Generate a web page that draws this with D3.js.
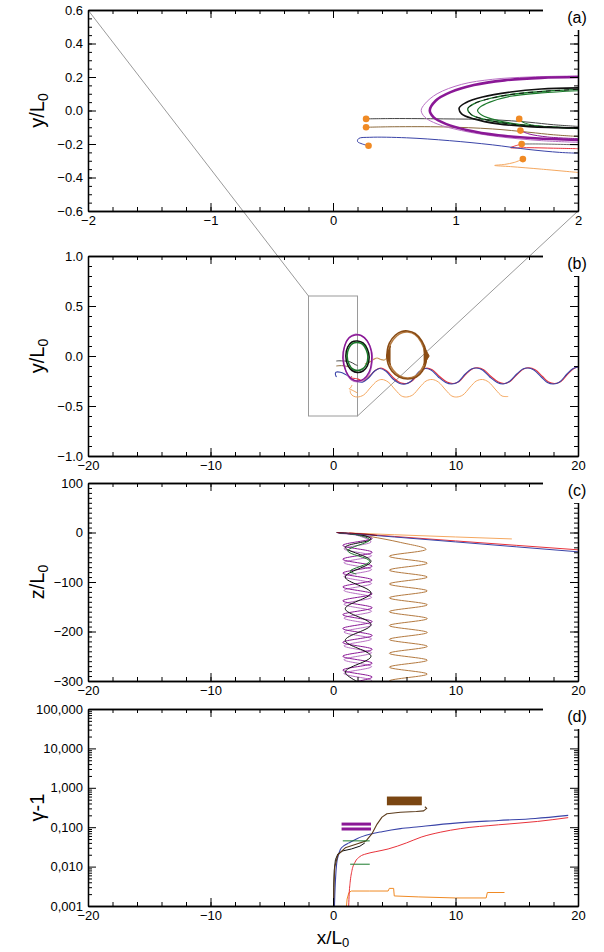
<!DOCTYPE html>
<html><head><meta charset="utf-8">
<script src="https://cdn.jsdelivr.net/npm/d3@7"></script>
<style>
body{margin:0;background:#fff}
svg{display:block}
text{font-family:"Liberation Sans",Arial,Helvetica,sans-serif}
</style>
</head><body>
<svg id="chart" width="604" height="952"></svg>
<script>
// ---------------- DATA ----------------
const panelLabels = ["(a)", "(b)", "(c)", "(d)"];
const yTitles = ["y/L", "y/L", "z/L", "\u03B3-1"];

const aXTicks = [-2, -1, 0, 1, 2];
const aXTickLabels = ["\u22122", "\u22121", "0", "1", "2"];
const aYTicks = [-0.6, -0.4, -0.2, 0.0, 0.2, 0.4, 0.6];
const aYTickLabels = ["\u22120.6", "\u22120.4", "\u22120.2", "0.0", "0.2", "0.4", "0.6"];
const bigXTicks = [-20, -10, 0, 10, 20];
const bigXTickLabels = ["\u221220", "\u221210", "0", "10", "20"];
const bYTicks = [-1, -0.5, 0, 0.5, 1];
const bYTickLabels = ["\u22121.0", "\u22120.5", "0.0", "0.5", "1.0"];
const cYTicks = [-300, -200, -100, 0, 100];
const cYTickLabels = ["\u2212300", "\u2212200", "\u2212100", "0", "100"];
const dYTicks = [0.001, 0.01, 0.1, 1, 10, 100];
const dYTickLabels = ["0,001", "0,010", "0,100", "1,000", "10,000", "100,000"];

// zoom box of panel (a) drawn in panel (b)
const zoomBoxX = [-2, 2];
const zoomBoxY = [-0.6, 0.6];

// panel (a): starting points
const startDotsX = [0.27, 0.27, 0.29, 1.52, 1.53, 1.54, 1.55];
const startDotsY = [-0.05, -0.10, -0.21, -0.05, -0.12, -0.20, -0.29];

// panel (a) trajectories [x, y]
const aPurpleThick = [[2.0,0.200],[1.7,0.195],[1.4,0.18],[1.15,0.152],[0.96,0.11],[0.84,0.06],[0.79,0.0],[0.82,-0.04],[0.92,-0.08],[1.1,-0.118],[1.35,-0.148],[1.65,-0.166],[2.0,-0.176]];
const aPurpleThin = [[2.0,0.206],[1.6,0.2],[1.3,0.186],[1.05,0.156],[0.85,0.1],[0.75,0.04],[0.72,0.0],[0.75,-0.04],[0.85,-0.08],[1.05,-0.12],[1.35,-0.156],[1.7,-0.18],[2.0,-0.19]];
const aBlackLoop = [[2.0,0.135],[1.7,0.128],[1.45,0.11],[1.22,0.08],[1.08,0.045],[1.03,0.015],[1.05,-0.02],[1.15,-0.05],[1.35,-0.08],[1.6,-0.096],[2.0,-0.104]];
const aGreenLoop = [[2.0,0.126],[1.75,0.116],[1.5,0.1],[1.3,0.075],[1.15,0.04],[1.1,0.01],[1.13,-0.025],[1.25,-0.055],[1.45,-0.08],[1.7,-0.095],[2.0,-0.106]];
const aGreenLoop2 = [[2.0,0.118],[1.7,0.105],[1.45,0.085],[1.28,0.05],[1.2,0.02],[1.18,0.0],[1.22,-0.03],[1.35,-0.06],[1.55,-0.085],[1.8,-0.1],[2.0,-0.108]];
const aBlackStart = [[0.27,-0.05],[0.5,-0.048],[0.9,-0.05],[1.3,-0.055],[1.6,-0.07],[1.8,-0.085],[2.0,-0.095]];
const aBrownStart = [[0.27,-0.10],[0.5,-0.097],[0.9,-0.098],[1.3,-0.11],[1.6,-0.13],[1.8,-0.145],[2.0,-0.155]];
const aBlue = [[0.29,-0.21],[0.24,-0.2],[0.2,-0.185],[0.21,-0.167],[0.3,-0.16],[0.6,-0.163],[0.95,-0.18],[1.3,-0.205],[1.6,-0.233],[1.85,-0.25],[2.0,-0.255]];
const aRed = [[1.54,-0.20],[1.48,-0.213],[1.45,-0.222],[1.6,-0.222],[1.8,-0.225],[2.0,-0.228]];
const aOrange = [[1.55,-0.29],[1.48,-0.31],[1.4,-0.322],[1.32,-0.328],[1.45,-0.335],[1.7,-0.35],[2.0,-0.37]];
const aGreenStart = [[1.52,-0.05],[1.55,-0.07],[1.65,-0.09],[1.8,-0.1],[2.0,-0.106]];
const aPurpleStart = [[1.53,-0.12],[1.6,-0.14],[1.75,-0.158],[2.0,-0.168]];
const aGrayLow = [[1.55,-0.2],[1.7,-0.2],[2.0,-0.205]];

// panel (b) trajectories [x, y]
const bPurpleOrbit1 = [[0.8,-0.02],[0.95,0.1],[1.3,0.18],[1.8,0.21],[2.3,0.205],[2.8,0.15],[3.12,0.05],[3.15,-0.06],[2.95,-0.16],[2.5,-0.23],[2.0,-0.25],[1.5,-0.23],[1.05,-0.15]];
const bPurpleOrbit2 = [[0.86,0.0],[1.0,0.12],[1.35,0.19],[1.85,0.22],[2.35,0.2],[2.85,0.14],[3.2,0.03],[3.18,-0.08],[2.95,-0.18],[2.5,-0.24],[2.0,-0.26],[1.5,-0.24],[1.08,-0.16]];
const bBlackOrbit = [[1.05,0.0],[1.2,0.09],[1.55,0.14],[2.0,0.15],[2.45,0.13],[2.8,0.07],[2.95,-0.01],[2.8,-0.1],[2.45,-0.15],[2.0,-0.165],[1.55,-0.145],[1.2,-0.09]];
const bGreenOrbit = [[1.15,0.0],[1.3,0.08],[1.6,0.125],[2.0,0.135],[2.4,0.12],[2.72,0.06],[2.85,-0.01],[2.72,-0.085],[2.4,-0.13],[2.0,-0.145],[1.6,-0.13],[1.3,-0.08]];
const bBrownOrbit1 = [[4.4,0.0],[4.6,0.13],[5.1,0.21],[5.6,0.245],[6.1,0.25],[6.7,0.225],[7.25,0.15],[7.6,0.04],[7.6,-0.06],[7.3,-0.15],[6.8,-0.21],[6.1,-0.23],[5.4,-0.21],[4.8,-0.15],[4.5,-0.08]];
const bBrownOrbit2 = [[4.5,0.0],[4.7,0.12],[5.2,0.2],[5.7,0.235],[6.1,0.24],[6.7,0.215],[7.2,0.14],[7.5,0.03],[7.5,-0.06],[7.2,-0.14],[6.75,-0.2],[6.1,-0.22],[5.45,-0.2],[4.9,-0.14],[4.6,-0.07]];
const bBrownEarL = [[4.7,0.1],[4.35,0.0],[4.7,-0.09]];
const bBrownEarR = [[7.4,0.1],[7.85,0.0],[7.4,-0.09]];
const bTan = [[2.6,-0.08],[3.0,-0.06],[3.3,-0.035],[3.6,-0.02],[3.9,-0.035],[4.2,-0.04],[4.45,-0.01]];
const bBlue = [[2.0,-0.255],[2.4,-0.262],[2.9,-0.22],[3.4,-0.15],[3.8,-0.125],[4.3,-0.15],[4.9,-0.23],[5.4,-0.272],[5.9,-0.28],[6.4,-0.25],[7.0,-0.16],[7.5,-0.125],[8.0,-0.14],[8.6,-0.21],[9.2,-0.265],[9.7,-0.28],[10.2,-0.26],[10.8,-0.18],[11.3,-0.13],[11.7,-0.12],[12.2,-0.14],[12.8,-0.21],[13.4,-0.265],[13.9,-0.28],[14.4,-0.255],[15.0,-0.18],[15.5,-0.13],[15.9,-0.12],[16.4,-0.14],[17.0,-0.21],[17.5,-0.265],[18.0,-0.28],[18.5,-0.26],[19.1,-0.18],[19.6,-0.125],[20.0,-0.11]];
const bRed = [[2.0,-0.228],[2.5,-0.25],[3.0,-0.2],[3.5,-0.14],[3.9,-0.12],[4.4,-0.15],[5.0,-0.225],[5.5,-0.268],[6.0,-0.275],[6.5,-0.245],[7.1,-0.16],[7.6,-0.122],[8.1,-0.138],[8.7,-0.205],[9.3,-0.26],[9.8,-0.275],[10.3,-0.255],[10.9,-0.175],[11.4,-0.128],[11.8,-0.118],[12.3,-0.138],[12.9,-0.205],[13.5,-0.26],[14.0,-0.275],[14.5,-0.25],[15.1,-0.175],[15.6,-0.128],[16.0,-0.118],[16.5,-0.138],[17.1,-0.205],[17.6,-0.26],[18.1,-0.275],[18.6,-0.255],[19.2,-0.175],[19.7,-0.122],[20.0,-0.11]];
const bOrange = [[1.4,-0.345],[1.45,-0.375],[1.65,-0.4],[2.0,-0.41],[2.5,-0.39],[3.1,-0.31],[3.6,-0.25],[4.0,-0.235],[4.5,-0.26],[5.1,-0.34],[5.6,-0.4],[6.0,-0.41],[6.5,-0.39],[7.1,-0.31],[7.6,-0.25],[8.1,-0.235],[8.6,-0.26],[9.2,-0.34],[9.7,-0.4],[10.1,-0.41],[10.6,-0.39],[11.2,-0.31],[11.7,-0.25],[12.2,-0.235],[12.7,-0.26],[13.3,-0.34],[13.8,-0.4],[14.3,-0.405]];

// panel (c) trajectories [x, z]
const cBlue = [[0.3,0],[5,-9],[10,-19],[15,-29],[20,-39]];
const cRed = [[1.3,-1],[5,-8],[10,-17],[15,-26],[20,-35]];
const cOrange = [[1.4,-1],[5,-4.5],[10,-9],[14.6,-13]];
const cDarkRed = [[0.3,0],[1.5,-1.5],[3.0,-4],[3.6,-6]];
const cPurple1 = [[0.4,-1],[1.8,-4],[3.2,-12],[0.8,-26],[3.2,-40],[0.8,-54],[3.2,-68],[0.8,-82],[3.2,-96],[0.8,-110],[3.2,-124],[0.8,-138],[3.2,-152],[0.8,-166],[3.2,-180],[0.8,-194],[3.2,-208],[0.8,-222],[3.2,-236],[0.8,-250],[3.2,-264],[0.8,-278],[3.2,-292],[0.8,-306]];
const cPurple2 = [[0.5,-2],[2.0,-6],[3.1,-19],[0.9,-33],[3.15,-47],[0.9,-61],[3.15,-75],[0.9,-89],[3.15,-103],[0.9,-117],[3.15,-131],[0.9,-145],[3.15,-159],[0.9,-173],[3.15,-187],[0.9,-201],[3.15,-215],[0.9,-229],[3.15,-243],[0.9,-257],[3.15,-271],[0.9,-285],[3.15,-299],[0.9,-313]];
const cBlack = [[0.3,0],[1.5,-3],[2.8,-8],[3.1,-14],[1.0,-30],[3.1,-58],[1.0,-90],[3.1,-122],[1.0,-154],[3.1,-186],[1.0,-218],[3.1,-250],[1.0,-282],[3.1,-314]];
const cGreen = [[0.5,-1],[2.0,-5],[3.0,-15],[1.2,-37],[3.0,-58],[1.4,-78],[1.9,-84]];
const cBrown = [[1.0,-1],[3.0,-8],[5.5,-20],[7.6,-34],[4.6,-48],[7.7,-62],[4.6,-76],[7.7,-90],[4.6,-104],[7.7,-118],[4.6,-132],[7.7,-146],[4.6,-160],[7.7,-174],[4.6,-188],[7.7,-202],[4.6,-216],[7.7,-230],[4.6,-244],[7.7,-258],[4.6,-272],[7.7,-286],[4.6,-300],[7.7,-314]];

// panel (d): gamma-1 versus x
const dBlueX = [0.12,0.15,0.2,0.3,0.45,0.6,0.9,1.3,2.0,3.0,4.0,5.5,7.0,10.0,13.5,16.5,19.2];
const dBlueV = [0.001,0.002,0.0045,0.012,0.02,0.027,0.034,0.04,0.052,0.066,0.077,0.092,0.103,0.127,0.148,0.167,0.2];
const dRedX = [1.28,1.32,1.4,1.55,1.8,2.2,2.7,3.5,4.5,6.0,7.2,8.8,10.4,13.5,16.7,19.2];
const dRedV = [0.001,0.002,0.004,0.008,0.013,0.018,0.021,0.024,0.028,0.04,0.056,0.075,0.092,0.115,0.14,0.175];
const dBrownX = [0.05,0.08,0.15,0.4,1.0,2.0,2.7,3.2,3.6,4.0,4.4,5.5,6.8,7.4,7.65,7.5];
const dBrownV = [0.001,0.004,0.01,0.02,0.03,0.038,0.045,0.07,0.12,0.18,0.22,0.24,0.25,0.26,0.3,0.33];
const dBlackX = [0.04,0.06,0.1,0.2,0.4,0.8,1.5,2.2,2.6];
const dBlackV = [0.001,0.003,0.008,0.015,0.021,0.025,0.028,0.033,0.04];
const dBrownBandX = [4.4, 7.25];
const dBrownBandV = [0.36, 0.6];
const dPurpleX = [0.7, 3.1];
const dPurpleV = [0.12, 0.09];
const dGreenX = [[0.8, 3.0], [1.4, 3.0]];
const dGreenV = [0.045, 0.0115];
const dOrangeX = [1.1,1.15,1.3,1.5,3.0,4.5,4.6,4.95,5.0,7.0,10.0,12.5,12.6,14.0];
const dOrangeV = [0.001,0.0015,0.0022,0.0024,0.0024,0.0024,0.0028,0.0028,0.0018,0.0017,0.0016,0.0016,0.0022,0.0022];

// ---------------- COLOURS ----------------
const C = {
  purple: "#8a1896", purpleLight: "#b870c4", black: "#111111", green: "#1c7a2c",
  blue: "#3a44a8", red: "#e8323a", brown: "#8a4c14", brownLight: "#b47a40",
  tan: "#c89a5a", olive: "#8c6a3c", orange: "#f5a860", dot: "#f08a24", gray: "#9a9a9a", darkGray: "#444"
};

// ---------------- LAYOUT ----------------
const svg = d3.select("#chart");
const L = 88, R = 578;
const boxes = [
  {top: 10, bottom: 211},
  {top: 256, bottom: 456},
  {top: 483, bottom: 681},
  {top: 709, bottom: 906}
];

const xA = d3.scaleLinear().domain([-2, 2]).range([L, R]);
const yA = d3.scaleLinear().domain([-0.6, 0.6]).range([boxes[0].bottom, boxes[0].top]);
const xB = d3.scaleLinear().domain([-20, 20]).range([L, R]);
const yB = d3.scaleLinear().domain([-1, 1]).range([boxes[1].bottom, boxes[1].top]);
const yC = d3.scaleLinear().domain([-300, 100]).range([boxes[2].bottom, boxes[2].top]);
const yD = d3.scaleLog().domain([0.001, 100]).range([boxes[3].bottom, boxes[3].top]);

function range(a, b, s) { const o = []; for (let v = a; v <= b + 1e-9; v += s) o.push(+v.toFixed(6)); return o; }
function logMinor() { const o = []; for (let e = -3; e < 2; e++) for (let k = 2; k <= 9; k++) o.push(k * Math.pow(10, e)); return o; }

function styleAxis(g) {
  g.select(".domain").attr("stroke", "#000").attr("stroke-width", 1.3);
  g.selectAll(".tick line").attr("stroke", "#000").attr("stroke-width", 1);
  g.selectAll("text").attr("font-family", "'Liberation Sans', Arial, sans-serif").attr("font-size", 13).attr("fill", "#000");
}

function drawAxes(i, x, y, xMaj, xLab, xMin, yMaj, yLab, yMin) {
  const b = boxes[i];
  const g = svg.append("g");
  const fx = d => xLab[xMaj.indexOf(d)];
  const fy = d => yLab[yMaj.indexOf(d)];
  g.append("g").attr("transform", `translate(0,${b.bottom})`)
    .call(d3.axisBottom(x).tickValues(xMin).tickSizeInner(-4).tickSizeOuter(0).tickFormat("")).call(styleAxis);
  g.append("g").attr("transform", `translate(0,${b.bottom})`)
    .call(d3.axisBottom(x).tickValues(xMaj).tickSizeInner(-8).tickSizeOuter(0).tickPadding(5).tickFormat(fx)).call(styleAxis);
  g.append("g").attr("transform", `translate(0,${b.top})`)
    .call(d3.axisTop(x).tickValues(xMin).tickSizeInner(-4).tickSizeOuter(0).tickFormat("")).call(styleAxis);
  g.append("g").attr("transform", `translate(0,${b.top})`)
    .call(d3.axisTop(x).tickValues(xMaj).tickSizeInner(-8).tickSizeOuter(0).tickFormat("")).call(styleAxis);
  g.append("g").attr("transform", `translate(${L},0)`)
    .call(d3.axisLeft(y).tickValues(yMin).tickSizeInner(-4).tickSizeOuter(0).tickFormat("")).call(styleAxis);
  g.append("g").attr("transform", `translate(${L},0)`)
    .call(d3.axisLeft(y).tickValues(yMaj).tickSizeInner(-8).tickSizeOuter(0).tickPadding(5).tickFormat(fy)).call(styleAxis);
  g.append("g").attr("transform", `translate(${R},0)`)
    .call(d3.axisRight(y).tickValues(yMin).tickSizeInner(-4).tickSizeOuter(0).tickFormat("")).call(styleAxis);
  g.append("g").attr("transform", `translate(${R},0)`)
    .call(d3.axisRight(y).tickValues(yMaj).tickSizeInner(-8).tickSizeOuter(0).tickFormat("")).call(styleAxis);
  svg.append("rect").attr("x", 543).attr("y", b.top - 4).attr("width", 61).attr("height", 24).attr("fill", "#fff");
  svg.append("text").attr("x", 577).attr("y", b.top + 13).attr("text-anchor", "middle")
    .attr("font-size", 16).attr("fill", "#000").text(panelLabels[i]);
  const cy = (b.top + b.bottom) / 2;
  const t = svg.append("text").attr("transform", `translate(44,${cy}) rotate(-90)`)
    .attr("text-anchor", "middle").attr("font-size", 20).attr("fill", "#000");
  t.append("tspan").text(yTitles[i]);
  if (i < 3) t.append("tspan").attr("font-size", 14).attr("dy", "0.3em").text("0");
}

function clipFor(i, id) {
  const b = boxes[i];
  svg.append("clipPath").attr("id", id).append("rect")
    .attr("x", L).attr("y", b.top).attr("width", R - L).attr("height", b.bottom - b.top);
  return svg.append("g").attr("clip-path", `url(#${id})`);
}

function path(g, data, x, y, color, w, curve, extra) {
  const line = d3.line().x(d => x(d[0])).y(d => y(d[1])).curve(curve || d3.curveCatmullRom);
  const p = g.append("path").datum(data).attr("d", line).attr("fill", "none")
    .attr("stroke", color).attr("stroke-width", w).attr("stroke-linejoin", "round");
  if (extra) extra(p);
  return p;
}

// ---------------- ZOOM CONNECTORS ----------------
const conn = svg.append("g").attr("stroke", C.gray).attr("stroke-width", 1).attr("fill", "none");
conn.append("line").attr("x1", xA(zoomBoxX[0])).attr("y1", yA(zoomBoxY[1]))
  .attr("x2", xB(zoomBoxX[0])).attr("y2", yB(zoomBoxY[1]));
conn.append("line").attr("x1", xA(zoomBoxX[1])).attr("y1", yA(zoomBoxY[0]))
  .attr("x2", xB(zoomBoxX[1])).attr("y2", yB(zoomBoxY[0]));
conn.append("rect").attr("x", xB(zoomBoxX[0])).attr("y", yB(zoomBoxY[1]))
  .attr("width", xB(zoomBoxX[1]) - xB(zoomBoxX[0])).attr("height", yB(zoomBoxY[0]) - yB(zoomBoxY[1]));

// ---------------- PANEL A ----------------
const gA = clipFor(0, "clipA");
path(gA, aGrayLow, xA, yA, C.darkGray, 0.8);
path(gA, aOrange, xA, yA, C.orange, 1);
path(gA, aRed, xA, yA, C.red, 1);
path(gA, aBlue, xA, yA, C.blue, 1);
path(gA, aBrownStart, xA, yA, C.olive, 1);
path(gA, aBlackStart, xA, yA, C.darkGray, 1);
path(gA, aPurpleStart, xA, yA, C.purple, 1);
path(gA, aGreenStart, xA, yA, C.green, 1);
path(gA, aPurpleThin, xA, yA, C.purpleLight, 1);
path(gA, aPurpleThick, xA, yA, C.purple, 2.6);
path(gA, aGreenLoop2, xA, yA, C.green, 1.2);
path(gA, aGreenLoop, xA, yA, C.green, 1.4);
path(gA, aBlackLoop, xA, yA, C.black, 1.6);
path(gA, aGreenLoop, xA, yA, C.black, 1, null, p => p.attr("stroke-dasharray", "5,4"));
gA.selectAll("circle.dot").data(startDotsX).enter().append("circle")
  .attr("cx", d => xA(d)).attr("cy", (d, i) => yA(startDotsY[i])).attr("r", 3.3).attr("fill", C.dot);
drawAxes(0, xA, yA, aXTicks, aXTickLabels, range(-2, 2, 0.2), aYTicks, aYTickLabels, range(-0.6, 0.6, 0.05));

// ---------------- PANEL B ----------------
const gB = clipFor(1, "clipB");
path(gB, bOrange, xB, yB, C.orange, 1);
path(gB, aOrange, xB, yB, C.orange, 1);
path(gB, bRed, xB, yB, C.red, 1.1);
path(gB, aBlue.concat(bBlue), xB, yB, C.blue, 1.1);
path(gB, aRed, xB, yB, C.red, 1);
path(gB, aBrownStart, xB, yB, C.olive, 1);
path(gB, aBlackStart, xB, yB, C.darkGray, 1);
path(gB, aPurpleStart, xB, yB, C.purple, 1);
path(gB, bTan, xB, yB, C.tan, 1.2);
path(gB, bBrownOrbit2, xB, yB, C.brownLight, 1.6, d3.curveCatmullRomClosed);
path(gB, bBrownOrbit1, xB, yB, C.brown, 1.6, d3.curveCatmullRomClosed);
path(gB, bBrownEarL, xB, yB, C.brown, 1, d3.curveLinear, p => p.attr("fill", C.brown));
path(gB, bBrownEarR, xB, yB, C.brown, 1, d3.curveLinear, p => p.attr("fill", C.brown));
path(gB, bPurpleOrbit2, xB, yB, C.purpleLight, 1.2, d3.curveCatmullRomClosed);
path(gB, bPurpleOrbit1, xB, yB, C.purple, 1.4, d3.curveCatmullRomClosed);
path(gB, bBlackOrbit, xB, yB, C.black, 1.6, d3.curveCatmullRomClosed);
path(gB, bGreenOrbit, xB, yB, C.green, 1.6, d3.curveCatmullRomClosed);
drawAxes(1, xB, yB, bigXTicks, bigXTickLabels, range(-20, 20, 2), bYTicks, bYTickLabels, range(-1, 1, 0.1));

// ---------------- PANEL C ----------------
const gC = clipFor(2, "clipC");
path(gC, cBrown, xB, yC, C.brownLight, 1);
path(gC, cPurple2, xB, yC, C.purpleLight, 1);
path(gC, cPurple1, xB, yC, C.purple, 1);
path(gC, cBlack, xB, yC, C.black, 1);
path(gC, cGreen, xB, yC, C.green, 1);
path(gC, cOrange, xB, yC, C.orange, 1, d3.curveLinear);
path(gC, cRed, xB, yC, C.red, 1, d3.curveLinear);
path(gC, cBlue, xB, yC, C.blue, 1, d3.curveLinear);
path(gC, cDarkRed, xB, yC, "#7a1020", 1, d3.curveLinear);
drawAxes(2, xB, yC, bigXTicks, bigXTickLabels, range(-20, 20, 2), cYTicks, cYTickLabels, range(-300, 100, 10));

// ---------------- PANEL D ----------------
const gD = clipFor(3, "clipD");
const zip = (xs, vs) => xs.map((x, i) => [x, vs[i]]);
path(gD, zip(dOrangeX, dOrangeV), xB, yD, C.dot, 1, d3.curveLinear);
path(gD, zip(dRedX, dRedV), xB, yD, C.red, 1, d3.curveMonotoneX);
path(gD, zip(dBlueX, dBlueV), xB, yD, C.blue, 1.1, d3.curveMonotoneX);
path(gD, zip(dBlackX, dBlackV), xB, yD, C.black, 1, d3.curveLinear);
path(gD, zip(dBrownX, dBrownV), xB, yD, "#5a3a1a", 1.1, d3.curveLinear);
gD.append("rect").attr("x", xB(dBrownBandX[0])).attr("y", yD(dBrownBandV[1]))
  .attr("width", xB(dBrownBandX[1]) - xB(dBrownBandX[0]))
  .attr("height", yD(dBrownBandV[0]) - yD(dBrownBandV[1])).attr("fill", "#7a4612");
dPurpleV.forEach(v => path(gD, [[dPurpleX[0], v], [dPurpleX[1], v]], xB, yD, C.purple, 3, d3.curveLinear));
dGreenV.forEach((v, i) => path(gD, [[dGreenX[i][0], v], [dGreenX[i][1], v]], xB, yD, C.green, 1, d3.curveLinear));
drawAxes(3, xB, yD, bigXTicks, bigXTickLabels, range(-20, 20, 2), dYTicks, dYTickLabels, logMinor());

// x title
const xt = svg.append("text").attr("x", 333).attr("y", 944).attr("text-anchor", "middle")
  .attr("font-size", 19).attr("fill", "#000");
xt.append("tspan").text("x/L");
xt.append("tspan").attr("font-size", 13).attr("dy", "0.25em").text("0");
</script>
</body></html>
